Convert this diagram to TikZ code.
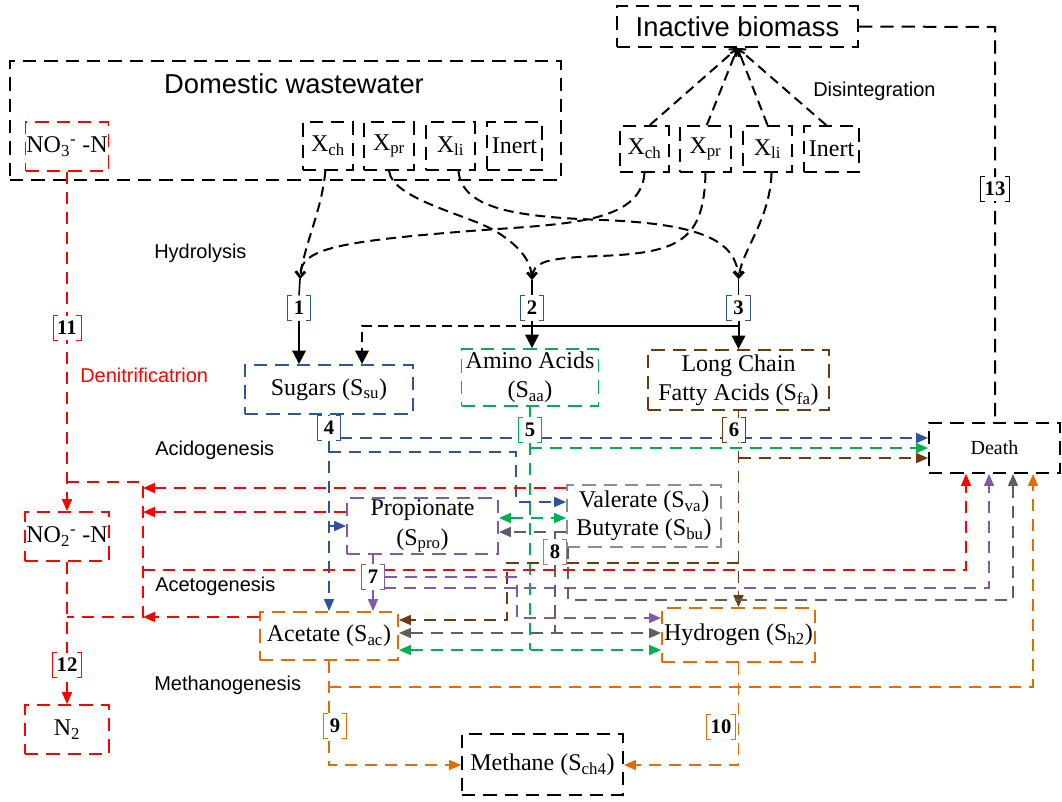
\documentclass[tikz,border=0pt]{standalone}
\usepackage{fontspec}
\setmainfont{Liberation Serif}
\newfontfamily\arialfont{Liberation Sans}
\usetikzlibrary{arrows.meta}
\pgfdeclarelayer{bg}
\pgfsetlayers{bg,main}
\definecolor{cblue}{HTML}{2F5597}
\definecolor{cgreen}{HTML}{00B050}
\definecolor{cbrown}{HTML}{6B3A12}
\definecolor{cpurple}{HTML}{7E5AA8}
\definecolor{cgray}{HTML}{5F5F5F}
\definecolor{cgrayl}{HTML}{8C8C8C}
\definecolor{corange}{HTML}{E36C0A}
\begin{document}
\begin{tikzpicture}[x=0.75pt,y=-0.75pt,
  >={Triangle[length=9pt,width=7.5pt]},
  wh/.style 2 args={minimum width=#1*0.75pt, minimum height=#2*0.75pt},
  nbox/.style={draw, line width=1.4pt, dash pattern=on 10pt off 6pt, inner sep=0pt,
    align=center, font=\fontsize{18}{22}\selectfont},
  lab/.style={fill=white, inner xsep=3pt, inner ysep=1pt, minimum width=17pt,
    minimum height=18.5pt, font=\bfseries\fontsize{15.5}{16}\selectfont},
  stage/.style={font=\arialfont\fontsize{15}{18}\selectfont, anchor=west, inner sep=0pt},
  fl/.style={line width=1.3pt, dash pattern=on 9pt off 6pt},
  blk/.style={line width=1.5pt, dash pattern=on 7.5pt off 4.5pt},
  barb/.style={-{Straight Barb[length=4.5pt,width=7pt]}},
  bigtip/.style={-{Triangle[length=10pt,width=10pt]}}
]
\useasboundingbox (0,0) rectangle (1062,801);

% ---------- influent and inactive biomass ----------
\node[nbox, wh={551}{119}] (dw) at (285.5,120.5) {};
\node[font=\arialfont\fontsize{20.5}{24}\selectfont] (dwt) at (294,84) {Domestic wastewater};
\node[nbox, draw=red, wh={83}{49}] (no3) at (67,146.5) {NO\textsubscript{3}\textsuperscript{-} -N};
\node[nbox, wh={50}{48}] (dxch) at (328,146) {X\textsubscript{ch}};
\node[nbox, wh={50}{48}] (dxpr) at (389,146) {X\textsubscript{pr}};
\node[nbox, wh={49}{48}] (dxli) at (450.5,146) {X\textsubscript{li}};
\node[nbox, wh={55}{48}] (dinert) at (514.5,146) {Inert};

\node[nbox, wh={241}{41}, font=\arialfont\fontsize{20.5}{24}\selectfont] (ib) at (737.5,26.5) {Inactive biomass};
\node[nbox, wh={49}{46}] (bxch) at (644.5,149) {X\textsubscript{ch}};
\node[nbox, wh={51}{46}] (bxpr) at (705.5,149) {X\textsubscript{pr}};
\node[nbox, wh={49}{46}] (bxli) at (767.5,149) {X\textsubscript{li}};
\node[nbox, wh={55}{46}] (binert) at (831.5,149) {Inert};

% ---------- substrates ----------
\node[nbox, draw=cblue, wh={168}{49}] (su) at (329,389.5) {Sugars (S\textsubscript{su})};
\node[nbox, draw=cgreen, wh={137}{57}] (am) at (530,377.5) {Amino Acids\\(S\textsubscript{aa})};
\node[nbox, draw=cbrown, wh={181}{60}] (lc) at (738.5,380) {Long Chain\\Fatty Acids (S\textsubscript{fa})};
\node[nbox, wh={131}{50}, font=\fontsize{15}{18}\selectfont] (death) at (994.5,448) {Death};
\node[nbox, draw=cpurple, wh={151}{56}] (pr) at (422.5,526) {Propionate\\(S\textsubscript{pro})};
\node[nbox, draw=cgrayl, wh={154}{62}, font=\fontsize{18}{21}\selectfont] (va) at (644,516) {Valerate (S\textsubscript{va})\\Butyrate (S\textsubscript{bu})};
\node[nbox, draw=corange, wh={138}{48}] (ac) at (329,636) {Acetate (S\textsubscript{ac})};
\node[nbox, draw=corange, wh={153}{54}] (hy) at (738.5,635) {Hydrogen (S\textsubscript{h2})};
\node[nbox, wh={161}{61}] (me) at (542.5,764.5) {Methane (S\textsubscript{ch4})};
\node[nbox, draw=red, wh={84}{49}] (no2) at (67,536.5) {NO\textsubscript{2}\textsuperscript{-} -N};
\node[nbox, draw=red, wh={84}{49}] (n2) at (67,729.5) {N\textsubscript{2}};

% ---------- process stages ----------
\node[stage] (tdis) at (813,91) {Disintegration};
\node[stage] (thy) at (154,253) {Hydrolysis};
\node[stage, text=red] (tden) at (80,375) {Denitrificatrion};
\node[stage] (tacid) at (155,450) {Acidogenesis};
\node[stage] (tacet) at (155,586) {Acetogenesis};
\node[stage] (tmeth) at (154,685) {Methanogenesis};

% ---------- process numbers ----------
\node[lab] (l1) at (299,308) {1};
\node[lab] (l2) at (532,308) {2};
\node[lab] (l3) at (738.5,308) {3};
\node[lab] (l4) at (329,428) {4};
\node[lab] (l5) at (530,430) {5};
\node[lab] (l6) at (734,430) {6};
\node[lab] (l7) at (373,577) {7};
\node[lab] (l8) at (555,552) {8};
\node[lab] (l9) at (335,726) {9};
\node[lab] (l10) at (721,727) {10};
\node[lab] (l11) at (67,328) {11};
\node[lab] (l12) at (67,665) {12};
\node[lab] (l13) at (995,189) {13};
% bracket frames of the process numbers
\foreach \n/\c in {l1/cblue,l2/cblue,l3/cblue,l4/cblue,l5/cgreen,l6/cbrown,l7/cpurple,
    l8/cgrayl,l9/corange,l10/corange,l11/red,l12/red,l13/black}{
  \draw[color=\c, line width=0.7pt] ([xshift=3.5pt]\n.north west) -- (\n.north west)
    -- (\n.south west) -- ([xshift=3.5pt]\n.south west);
  \draw[color=\c, line width=0.7pt] ([xshift=-3.5pt]\n.north east) -- (\n.north east)
    -- (\n.south east) -- ([xshift=-3.5pt]\n.south east);
}

\begin{pgfonlayer}{bg}
% disintegration
\draw[blk, barb] ([xshift=4pt]bxch.north) -- (ib.south);
\draw[blk, barb] ([xshift=1pt]bxpr.north) -- (ib.south);
\draw[blk, barb] (bxli.north) -- (ib.south);
\draw[blk, barb] ([xshift=-4pt]binert.north) -- (ib.south);

% death back to inactive biomass
\coordinate (c13) at (995,27);
\draw[blk, dash pattern=on 10pt off 6pt] (ib.east) -- (c13) -- (c13 |- death.north);

% hydrolysis
\coordinate (h1) at (300,279);
\coordinate (h2) at (532,280);
\coordinate (h3) at (738.5,279);
\draw[blk, barb] ([xshift=-2pt]dxch.south) .. controls (322,210) and (304,245) .. (h1);
\draw[blk, barb] (bxch.south) .. controls (641,225) and (560,224) .. (470,231)
  .. controls (330,242) and (300,250) .. (h1);
\draw[blk, barb] (dxpr.south) .. controls (393,200) and (470,215) .. (497,232)
  .. controls (522,248) and (531,262) .. (h2);
\draw[blk, barb] (bxpr.south) .. controls (704,240) and (680,253) .. (600,256)
  .. controls (545,258) and (533,262) .. (h2);
\draw[blk, barb] ([xshift=6pt]dxli.south) .. controls (462,210) and (520,217) .. (603,220)
  .. controls (700,224) and (736,240) .. (h3);
\draw[blk, barb] ([xshift=3pt]bxli.south) .. controls (770,220) and (742,250) .. (h3);
\draw[line width=1.2pt] (h1) -- (l1.north);
\draw[line width=1.2pt] (h2) -- (l2.north);
\draw[line width=1.2pt] (h3) -- (l3.north);
\draw[line width=1.5pt, bigtip] (l1.south) -- (l1.south |- su.north);
\draw[line width=1.5pt, bigtip] (l2.south) -- (l2.south |- am.north);
\draw[line width=1.5pt, bigtip] (l3.south) -- (l3.south |- lc.north);
\coordinate (j3) at (738.5,326);
\coordinate (j2) at (532,326);
\coordinate (js) at (362,326);
\draw[line width=1.5pt] (j3) -- (j2);
\draw[blk, bigtip] (j2) -- (js) -- (js |- su.north);

% sugars (blue)
\draw[fl, cblue] (su.south) -- (l4.north);
\draw[fl, cblue, ->] (l4.south) -- (l4.south |- ac.north);
\coordinate (b1) at (340,438);
\draw[fl, cblue, ->] (b1) -- (b1 -| death.west);
\coordinate (b2) at (329,452);
\coordinate (b3) at (516,452);
\coordinate (b4) at (516,502);
\draw[fl, cblue, ->] (b2) -- (b3) -- (b4) -- (b4 -| va.west);
\coordinate (b5) at (329,526);
\draw[line width=1.3pt, cblue, ->] (b5) -- (b5 -| pr.west);

% amino acids (green)
\draw[fl, cgreen] (am.south) -- (l5.north);
\coordinate (g1) at (530,650);
\draw[fl, cgreen] (l5.south) -- (g1);
\coordinate (g2) at (530,448);
\draw[fl, cgreen, ->] (g2) -- (g2 -| death.west);
\coordinate (g3) at (530,518);
\draw[fl, cgreen, <->] (g3 -| pr.east) -- (g3 -| va.west);
\draw[fl, cgreen, <->] (g1 -| ac.east) -- (g1 -| hy.west);

% long chain fatty acids (brown)
\draw[fl, cbrown, ->] (lc.south) -- (lc.south |- hy.north);
\coordinate (w1) at (738.5,458);
\draw[fl, cbrown, ->] (w1) -- (w1 -| death.west);
\coordinate (w2) at (738.5,563);
\coordinate (w3) at (507,563);
\coordinate (w4) at (507,620);
\draw[fl, cbrown, ->] (w2) -- (w3) -- (w4) -- (w4 -| ac.east);

% propionate (purple)
\draw[fl, cpurple] (l7 |- pr.south) -- (l7.north);
\draw[fl, cpurple, ->] (l7.south) -- (l7.south |- ac.north);
\coordinate (p2) at (517,577);
\coordinate (p3) at (517,618);
\draw[fl, cpurple, ->] (l7.east) -- (p2) -- (p3) -- (p3 -| hy.west);
\coordinate (p4) at (384,588);
\coordinate (p5) at (989,588);
\draw[fl, cpurple, ->] (p4) -- (p5) -- (p5 |- death.south);

% valerate and butyrate (gray)
\coordinate (q1) at (555,532);
\draw[fl, cgray, ->] (q1 -| va.west) -- (q1 -| pr.east);
\draw[line width=1.3pt, cgray] (q1) -- (l8.north);
\coordinate (q2) at (555,633);
\draw[fl, cgray] (l8.south) -- (q2);
\draw[fl, cgray, <->] (q2 -| ac.east) -- (q2 -| hy.west);
\coordinate (q3) at (568,547);
\coordinate (q4) at (568,600);
\coordinate (q5) at (1013,600);
\draw[fl, cgray, ->] (q3) -- (q4) -- (q5) -- (q5 |- death.south);

% acetate and hydrogen (orange)
\coordinate (o1) at (329,765);
\draw[fl, corange, ->] (ac.south) -- (o1) -- (o1 -| me.west);
\coordinate (o2) at (329,687);
\coordinate (o3) at (1033,687);
\draw[fl, corange, ->] (o2) -- (o3) -- (o3 |- death.south);
\coordinate (o4) at (738.5,765);
\draw[fl, corange, ->] (hy.south) -- (o4) -- (o4 -| me.east);

% denitrification (red)
\draw[fl, red, ->] (no3.south) -- (no2.north);
\coordinate (r1) at (67,482);
\coordinate (r2) at (143,482);
\coordinate (r3) at (143,617);
\coordinate (r4) at (67,617);
\draw[fl, red] (r1) -- (r2) -- (r3) -- (r4);
\coordinate (r5) at (143,488);
\draw[fl, red, ->] (r5 -| va.west) -- (r5);
\coordinate (r6) at (143,512);
\draw[fl, red, ->] (r6 -| pr.west) -- (r6);
\draw[fl, red, ->] (r3 -| ac.west) -- (r3);
\coordinate (r7) at (143,570);
\coordinate (r8) at (966,570);
\draw[fl, red, ->] (r7) -- (r8) -- (r8 |- death.south);
\draw[fl, red, ->] (no2.south) -- (n2.north);
\end{pgfonlayer}
\end{tikzpicture}
\end{document}
